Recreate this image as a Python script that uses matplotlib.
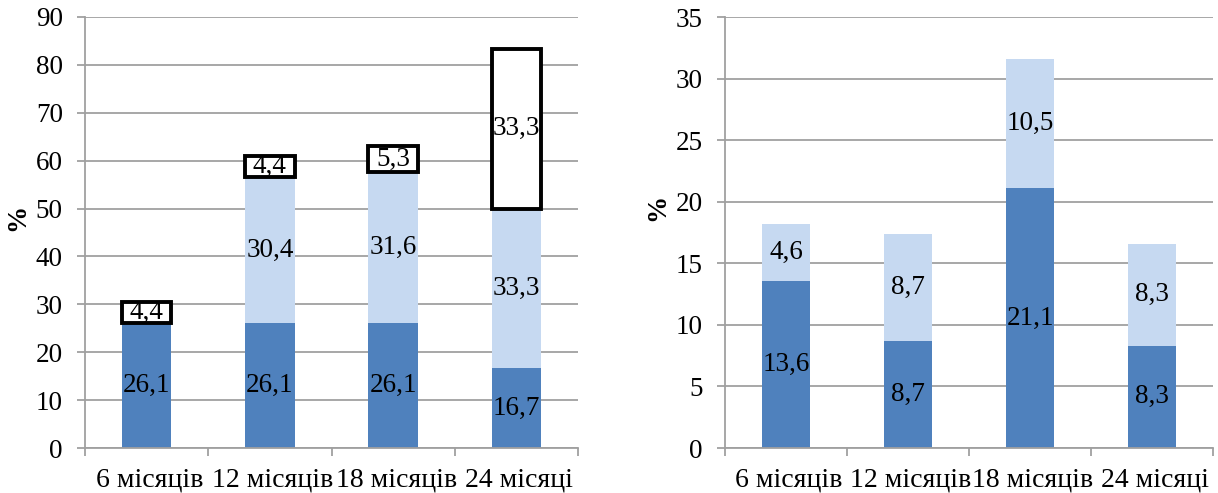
import matplotlib
matplotlib.use("Agg")
import matplotlib.pyplot as plt
import matplotlib.transforms as mtransforms
import numpy as np

plt.rcParams['font.family'] = ['Liberation Serif', 'DejaVu Serif']

categories = ["6 місяців", "12 місяців", "18 місяців", "24 місяці"]

# Left panel series
left_dark = [26.1, 26.1, 26.1, 16.7]
left_light = [0.0, 30.4, 31.6, 33.3]
left_box = [4.4, 4.4, 5.3, 33.3]

# Right panel series
right_dark = [13.6, 8.7, 21.1, 8.3]
right_light = [4.6, 8.7, 10.5, 8.3]

DARK = "#4F81BD"
LIGHT = "#C6D9F1"
GRID = "#A0A0A0"
FS = 19.5
XFS = 20

fig = plt.figure(figsize=(12.18, 4.93), dpi=100)
ax1 = fig.add_axes([85 / 1218, (493 - 448) / 493, (578 - 85) / 1218, (448 - 17) / 493])
ax2 = fig.add_axes([725 / 1218, (493 - 448) / 493, (1213 - 725) / 1218, (448 - 17) / 493])

x = np.arange(len(categories))
w = 0.40


def fmt(v):
    return f"{v:.1f}".replace(".", ",")


def style(ax, ymax, step, label_x, label_y):
    ax.set_xlim(-0.5, len(categories) - 0.5)
    ax.set_ylim(0, ymax)
    ax.set_yticks(np.arange(0, ymax + 0.1, step))
    ax.yaxis.grid(True, color=GRID, linewidth=1.3)
    ax.set_axisbelow(True)
    for s in ("top", "right"):
        ax.spines[s].set_visible(False)
    for s in ("left", "bottom"):
        ax.spines[s].set_color(GRID)
        ax.spines[s].set_linewidth(1.3)
    ax.set_xticks(np.arange(-0.5, len(categories)), labels=[""] * (len(categories) + 1))
    ax.set_xticks(x, labels=categories, minor=True)
    ax.tick_params(axis="x", which="major", length=6, color=GRID, width=1.3)
    ax.tick_params(axis="x", which="minor", length=0, labelsize=XFS, pad=14)
    ax.tick_params(axis="y", length=6, color=GRID, width=1.3, labelsize=FS, pad=10)
    shift = mtransforms.ScaledTranslation(3 / 100, 0, fig.dpi_scale_trans)
    for lab in ax.get_xticklabels(minor=True):
        lab.set_transform(lab.get_transform() + shift)
    ax.set_ylabel("%", fontsize=FS, fontweight="bold")
    ax.yaxis.set_label_coords(label_x, label_y)


# Left panel
style(ax1, 90, 10, -0.112, 0.536)
ax1.bar(x, left_dark, w, color=DARK)
ax1.bar(x, left_light, w, bottom=left_dark, color=LIGHT)
bottom_box = np.array(left_dark) + np.array(left_light)
ax1.bar(x, left_box, w, bottom=bottom_box, color="white",
        edgecolor="black", linewidth=2.8)
for i in range(len(x)):
    ax1.text(x[i], left_dark[i] / 2, fmt(left_dark[i]), ha="center", va="center", fontsize=FS)
    if left_light[i] > 0:
        ax1.text(x[i], left_dark[i] + left_light[i] / 2, fmt(left_light[i]),
                 ha="center", va="center", fontsize=FS)
    ax1.text(x[i], bottom_box[i] + left_box[i] / 2, fmt(left_box[i]),
             ha="center", va="center", fontsize=FS)

# Right panel
style(ax2, 35, 5, -0.113, 0.557)
ax2.bar(x, right_dark, w, color=DARK)
ax2.bar(x, right_light, w, bottom=right_dark, color=LIGHT)
for i in range(len(x)):
    ax2.text(x[i], right_dark[i] / 2, fmt(right_dark[i]), ha="center", va="center", fontsize=FS)
    ax2.text(x[i], right_dark[i] + right_light[i] / 2, fmt(right_light[i]),
             ha="center", va="center", fontsize=FS)

fig.savefig("out.png", dpi=100)
